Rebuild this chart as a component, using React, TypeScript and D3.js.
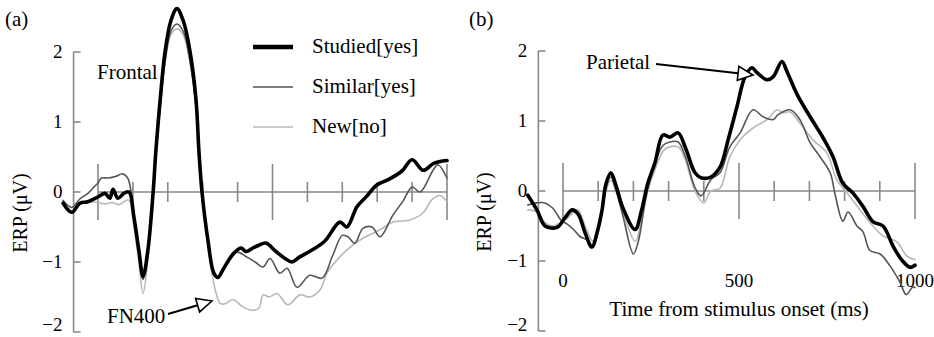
import * as d3 from "d3";

type Pt = [number, number];

// time (ms), amplitude (µV)
const conditions = ["Studied[yes]", "Similar[yes]", "New[no]"];

const frontalStudied: Pt[] = [
  [-100, -0.16], [-75, -0.29], [-52, -0.16], [-29, -0.14], [0, -0.07], [20, -0.02], [34, -0.09],
  [43, 0.04], [57, -0.09], [74, -0.02], [89, 0.0], [103, -0.36], [117, -0.83], [129, -1.21],
  [143, -0.83], [158, 0.0], [166, 0.6], [178, 1.31], [192, 2.0], [209, 2.45], [226, 2.62],
  [244, 2.45], [264, 2.0], [281, 1.31], [289, 0.6], [298, 0.0], [315, -0.69], [332, -1.16],
  [344, -1.22], [358, -1.11], [375, -0.97], [390, -0.87], [410, -0.8], [424, -0.85], [444, -0.8],
  [461, -0.76], [481, -0.73], [510, -0.85], [536, -0.95], [556, -1.0], [577, -0.93], [613, -0.83],
  [650, -0.7], [693, -0.43], [713, -0.5], [742, -0.21], [768, -0.07], [799, 0.1], [833, 0.18],
  [871, 0.3], [900, 0.46], [932, 0.31], [962, 0.41], [1000, 0.45],
];
const frontalSimilar: Pt[] = [
  [-100, -0.12], [-75, -0.22], [-52, -0.1], [-29, -0.02], [-10, 0.08], [0, 0.13], [10, 0.2],
  [30, 0.2], [50, 0.22], [70, 0.26], [85, 0.2], [95, 0.0], [103, -0.4], [117, -0.88], [129, -1.25],
  [143, -0.85], [158, 0.0], [166, 0.55], [178, 1.2], [192, 1.85], [209, 2.3], [226, 2.4],
  [244, 2.3], [264, 1.85], [281, 1.2], [289, 0.55], [298, -0.05], [315, -0.72], [332, -1.18],
  [344, -1.22], [358, -1.1], [375, -0.97], [398, -0.86], [427, -0.93], [450, -1.0], [473, -1.07],
  [493, -0.95], [521, -1.16], [542, -1.09], [570, -1.36], [607, -1.19], [642, -1.23], [673, -0.9],
  [700, -0.62], [716, -0.64], [736, -0.73], [759, -0.52], [785, -0.5], [808, -0.64], [845, -0.33],
  [874, -0.13], [900, 0.07], [923, 0.0], [960, 0.31], [974, 0.39], [1000, 0.2],
];
const frontalNew: Pt[] = [
  [-100, -0.15], [-75, -0.3], [-52, -0.18], [-29, -0.14], [0, -0.15], [20, -0.17], [40, -0.15],
  [60, -0.18], [80, -0.12], [89, -0.12], [103, -0.5], [117, -1.0], [129, -1.45], [143, -0.95],
  [158, -0.05], [166, 0.5], [178, 1.2], [192, 1.85], [209, 2.25], [226, 2.33], [244, 2.25],
  [264, 1.85], [281, 1.2], [289, 0.5], [298, -0.05], [315, -0.75], [330, -1.26], [338, -1.44],
  [350, -1.59], [362, -1.6], [387, -1.54], [415, -1.64], [441, -1.69], [461, -1.66], [473, -1.47],
  [490, -1.5], [513, -1.45], [544, -1.61], [579, -1.47], [607, -1.5], [636, -1.4], [656, -1.16],
  [685, -0.97], [722, -0.79], [759, -0.66], [808, -0.54], [845, -0.43], [894, -0.4], [931, -0.3],
  [957, -0.11], [980, -0.05], [1000, -0.14],
];

const parietalStudied: Pt[] = [
  [-100, -0.06], [-74, -0.27], [-51, -0.5], [-17, -0.52], [6, -0.38], [26, -0.27], [43, -0.33],
  [63, -0.6], [82, -0.8], [99, -0.55], [111, -0.27], [122, 0.1], [136, 0.26], [151, 0.07],
  [170, -0.24], [205, -0.55], [222, -0.3], [241, 0.11], [261, 0.4], [284, 0.8], [304, 0.77],
  [327, 0.83], [347, 0.63], [375, 0.26], [392, 0.19], [420, 0.2], [446, 0.34], [469, 0.73],
  [494, 1.2], [517, 1.63], [537, 1.76], [551, 1.69], [580, 1.59], [597, 1.63], [622, 1.85],
  [636, 1.71], [665, 1.38], [702, 1.06], [739, 0.76], [767, 0.49], [795, 0.11], [824, -0.03],
  [852, -0.22], [881, -0.44], [909, -0.5], [938, -0.79], [963, -0.99], [986, -1.09], [1000, -1.06],
];
const parietalSimilar: Pt[] = [
  [-100, -0.2], [-74, -0.17], [-51, -0.17], [-28, -0.25], [-5, -0.42], [11, -0.47], [30, -0.55],
  [48, -0.65], [68, -0.7], [85, -0.78], [99, -0.6], [111, -0.3], [122, 0.05], [136, 0.2],
  [151, 0.0], [170, -0.35], [200, -0.9], [215, -0.7], [235, -0.1], [255, 0.3], [284, 0.65],
  [304, 0.7], [327, 0.7], [347, 0.5], [375, 0.05], [392, -0.07], [420, 0.16], [446, 0.26],
  [474, 0.63], [503, 0.83], [540, 1.16], [568, 1.06], [597, 1.02], [611, 1.09], [645, 1.16],
  [673, 1.02], [702, 0.69], [730, 0.49], [759, 0.26], [773, -0.05], [795, -0.43], [810, -0.3],
  [835, -0.5], [852, -0.58], [872, -0.85], [901, -0.9], [929, -1.07], [957, -1.3], [975, -1.48],
  [994, -1.37], [1000, -1.38],
];
const parietalNew: Pt[] = [
  [-100, -0.27], [-74, -0.3], [-51, -0.45], [-28, -0.5], [-5, -0.45], [11, -0.4], [30, -0.3],
  [43, -0.27], [63, -0.5], [85, -0.72], [99, -0.55], [111, -0.3], [122, 0.0], [136, 0.15],
  [151, 0.0], [170, -0.3], [205, -0.72], [222, -0.45], [241, 0.0], [261, 0.3], [290, 0.6],
  [327, 0.63], [347, 0.45], [375, 0.0], [400, -0.17], [420, 0.0], [446, 0.04], [474, 0.49],
  [503, 0.73], [540, 0.9], [580, 1.02], [608, 1.16], [625, 1.12], [645, 1.13], [673, 0.97],
  [710, 0.73], [750, 0.54], [778, 0.16], [807, -0.03], [844, -0.27], [881, -0.5], [909, -0.64],
  [949, -0.73], [977, -0.93], [1000, -0.98],
];

const yTicks = [2, 1, 0, -1, -2];
const timeTicks = d3.range(0, 1001, 100);
const timeLabels = [0, 500, 1000];

const FONT = "'Liberation Serif', 'DejaVu Serif', serif";
const AXIS = "#888";
const lineStyles = [
  { color: "#000", width: 3.6 },
  { color: "#555", width: 1.6 },
  { color: "#b8b8b8", width: 1.6 },
];

function fmt(v: number) {
  return v < 0 ? "\u2212" + Math.abs(v) : String(v);
}

function Arrow({ from, to }: { from: Pt; to: Pt }) {
  const dx = to[0] - from[0], dy = to[1] - from[1];
  const len = Math.hypot(dx, dy);
  const ux = dx / len, uy = dy / len;
  const L = 15, W = 7;
  const bx = to[0] - ux * L, by = to[1] - uy * L;
  const pts = [to, [bx - uy * W, by + ux * W], [bx + uy * W, by - ux * W]];
  return (
    <g>
      <line x1={from[0]} y1={from[1]} x2={bx} y2={by} stroke="#000" strokeWidth={2} />
      <polygon points={pts.map(p => p.join(",")).join(" ")} fill="#fff" stroke="#000" strokeWidth={1.6} />
    </g>
  );
}

function Panel({ x0, x1, yTop, series, tag, labelX, showTime }: {
  x0: number; x1: number; yTop: number; series: Pt[][]; tag: string; labelX: number; showTime: boolean;
}) {
  const x = d3.scaleLinear().domain([0, 1000]).range([x0, x1]);
  const y = d3.scaleLinear().domain([2, -2]).range([yTop, yTop + 280]);
  const line = d3.line<Pt>().x(d => x(d[0])).y(d => y(d[1])).curve(d3.curveCatmullRom.alpha(0.5));
  const ax = x(-70);
  return (
    <g>
      <text x={labelX - 22} y={26} fontSize={21}>{tag}</text>
      <text transform={`translate(${labelX},${y(-0.3)}) rotate(-90)`} textAnchor="middle" fontSize={20}>ERP (μV)</text>
      <line x1={ax} x2={ax} y1={y(2)} y2={y(-2)} stroke={AXIS} strokeWidth={1.6} />
      {yTicks.map(t => (
        <g key={t}>
          <line x1={ax} x2={ax + 7} y1={y(t)} y2={y(t)} stroke={AXIS} strokeWidth={1.6} />
          <text x={ax - 11} y={Math.min(y(t), 325)} dy="0.33em" textAnchor="end" fontSize={19}>{fmt(t)}</text>
        </g>
      ))}
      <line x1={x(0)} x2={x(1000)} y1={y(0)} y2={y(0)} stroke={AXIS} strokeWidth={1.6} />
      {timeTicks.map(t => {
        const big = t % 500 === 0;
        return (
          <line key={t} x1={x(t)} x2={x(t)} y1={y(0) - (big ? 28 : 10)} y2={y(0) + (big ? 28 : 10)}
            stroke={AXIS} strokeWidth={1.6} />
        );
      })}
      {showTime && timeLabels.map(t => (
        <text key={t} x={x(t)} y={287} textAnchor="middle" fontSize={19}>{t}</text>
      ))}
      {[2, 1, 0].map(i => (
        <path key={i} d={line(series[i]) || ""} fill="none" stroke={lineStyles[i].color}
          strokeWidth={lineStyles[i].width} strokeLinejoin="round" strokeLinecap="round" />
      ))}
    </g>
  );
}

export default function App() {
  return (
    <>
      <style>{`body{margin:0}`}</style>
      <svg width={934} height={337} style={{ display: "block", background: "#fff", fontFamily: FONT }}>
        <Panel x0={98} x1={447} yTop={52} series={[frontalStudied, frontalSimilar, frontalNew]}
          tag="(a)" labelX={27} showTime={false} />
        <Panel x0={563} x1={915} yTop={51} series={[parietalStudied, parietalSimilar, parietalNew]}
          tag="(b)" labelX={491} showTime={true} />

        <text x={97} y={79} fontSize={21}>Frontal</text>
        <text x={107} y={323} fontSize={21}>FN400</text>
        <Arrow from={[168, 314]} to={[212, 301]} />
        <text x={586} y={69} fontSize={21}>Parietal</text>
        <Arrow from={[656, 64]} to={[753, 75]} />
        <text x={739} y={316} textAnchor="middle" fontSize={21}>Time from stimulus onset (ms)</text>

        {conditions.map((c, i) => (
          <g key={c} transform={`translate(0,${47 + i * 40})`}>
            <line x1={253} x2={293} y1={0} y2={0} stroke={lineStyles[i].color}
              strokeWidth={i === 0 ? 4.5 : lineStyles[i].width} />
            <text x={312} y={6} fontSize={21}>{c}</text>
          </g>
        ))}
      </svg>
    </>
  );
}
